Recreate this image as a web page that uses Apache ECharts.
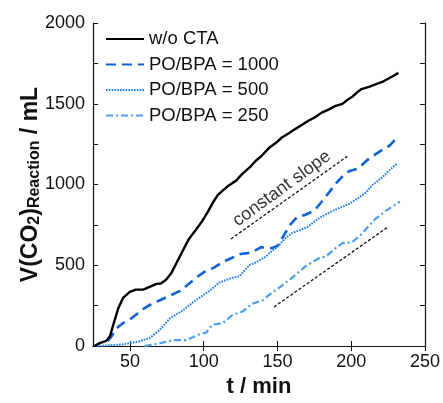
<!DOCTYPE html>
<html>
<head>
<meta charset="utf-8">
<script src="https://cdn.jsdelivr.net/npm/echarts@6/dist/echarts.min.js"></script>
<style>
  html, body { margin: 0; padding: 0; background: #fff; }
  #chart { width: 443px; height: 403px; }
</style>
</head>
<body>
<div id="chart"></div>
<script>
// values: [t / min, V / mL]
const noCta = [[26,0],[29.5,18],[34,32],[36.5,60],[38.7,130],[42,230],[45.5,300],[50,335],[54,349],[59,349],[63,365],[68,385],[71,387],[74.5,410],[78,450],[81.5,512],[86,593],[90,663],[95,723],[99,773],[103,834],[106,884],[109.5,934],[113,964],[117,994],[122,1024],[126,1064],[131,1104],[135,1144],[140,1184],[144,1224],[149,1258],[153,1291],[158,1319],[162,1343],[167,1371],[171,1395],[176,1419],[180,1445],[185,1465],[189,1485],[194,1499],[197,1521],[201,1545],[204,1571],[207,1591],[212,1605],[216,1619],[221,1635],[225,1655],[229,1675],[232,1691]]
const bpa1000 = [[35,30],[38,65],[41,110],[45,140],[50,165],[55,200],[60,235],[65,262],[70,282],[77,311],[84,341],[90,385],[96,430],[101,462],[107,485],[113,520],[119,545],[125,570],[132,578],[139,612],[146,606],[150,620],[155,695],[159,755],[163,795],[169,813],[175,838],[180,893],[184,940],[190,1010],[195,1060],[199,1084],[205,1100],[210,1145],[215,1178],[221,1215],[226,1240],[232,1300]]
const bpa500 = [[27.5,0],[45.5,10],[56.8,30],[63.5,50],[70.3,100],[77,170],[86,221],[92,265],[99.3,313],[104,341],[110.6,393],[119.6,423],[124.3,432],[130.9,500],[136,520],[142,553],[146.8,592],[151,623],[155,665],[160,700],[165,717],[170,735],[178.4,793],[187.4,837],[193,858],[198.6,880],[205,918],[209.9,950],[214,995],[221,1044],[226,1090],[231.3,1131]]
const bpa250 = [[60,0],[70,16],[79,36],[88,36],[97,72],[101.6,82],[106,132],[113,142],[119.6,192],[126,212],[133,262],[140,283],[146.6,333],[153,373],[160,423],[169,493],[178,543],[182.6,553],[189,603],[194,637],[200.7,643],[207,693],[216,784],[223,834],[233,894]]
const slopeA = [[118.5,663],[197.3,1174]]
const slopeB = [[147.7,242],[224.3,733]]
const slopeText = [[153,975]]

const xTicks = [50,100,150,200,250]
const seriesNames = ['w/o CTA','PO/BPA = 1000','PO/BPA = 500','PO/BPA = 250']

const font = 'Arial, "Liberation Sans", sans-serif'

const chart = echarts.init(document.getElementById('chart'))

const line = (name, data, color, width, type) => ({
  name, type: 'line', data, symbol: 'none', smooth: false,
  xAxisIndex: 0, yAxisIndex: 0,
  lineStyle: { color, width, type, cap: 'butt' },
  itemStyle: { color },
  emphasis: { disabled: true }
})

chart.setOption({
  animation: false,
  grid: { left: 93, right: 17, top: 23, bottom: 48 },
  legend: {
    data: seriesNames,
    orient: 'vertical',
    left: 105, top: 29, padding: 0,
    itemWidth: 38, itemHeight: 14, itemGap: 5.5,
    itemStyle: { opacity: 0 },
    textStyle: { fontFamily: font, fontSize: 18.5, color: '#111', lineHeight: 20 }
  },
  xAxis: [{
    type: 'value', min: 25, max: 250,
    name: 't / min', nameLocation: 'middle', nameGap: 30,
    nameTextStyle: { fontFamily: font, fontSize: 22, fontWeight: 'bold', color: '#111' },
    axisLine: { lineStyle: { color: '#111', width: 1.2 } },
    axisTick: { inside: true, length: 5, customValues: xTicks, lineStyle: { color: '#111' } },
    axisLabel: { customValues: xTicks, fontFamily: font, fontSize: 18, color: '#111', margin: 7 },
    splitLine: { show: false }
  }, {
    type: 'value', min: 25, max: 250, position: 'top',
    axisLine: { lineStyle: { color: '#111', width: 1.2 } },
    axisTick: { inside: true, length: 5, customValues: xTicks, lineStyle: { color: '#111' } },
    axisLabel: { show: false }, splitLine: { show: false }
  }],
  yAxis: [{
    type: 'value', min: 0, max: 2000, interval: 250,
    name: '{b|V(CO}{s|2}{b|)}{s|Reaction}{b| / mL}', nameLocation: 'middle', nameGap: 50,
    nameMoveOverlap: false,
    nameTextStyle: {
      rich: {
        b: { fontFamily: font, fontSize: 23, fontWeight: 'bold', color: '#111' },
        s: { fontFamily: font, fontSize: 16, fontWeight: 'bold', color: '#111', verticalAlign: 'bottom', padding: [9, 0, 0, 0] }
      }
    },
    axisLine: { show: true, lineStyle: { color: '#111', width: 1.2 } },
    axisTick: { show: true, inside: true, length: 5, lineStyle: { color: '#111' } },
    axisLabel: { fontFamily: font, fontSize: 18, color: '#111', margin: 8,
      formatter: v => (v % 500 === 0 ? v : '') },
    splitLine: { show: false }
  }, {
    type: 'value', min: 0, max: 2000, interval: 250, position: 'right',
    axisLine: { show: true, lineStyle: { color: '#111', width: 1.2 } },
    axisTick: { show: true, inside: true, length: 5, lineStyle: { color: '#111' } },
    axisLabel: { show: false }, splitLine: { show: false }
  }],
  series: [
    line('slopeA', slopeA, '#111', 1.3, [3, 2]),
    line('slopeB', slopeB, '#111', 1.3, [3, 2]),
    line(seriesNames[3], bpa250, '#4a9ff0', 2.2, [7, 3, 2, 3]),
    line(seriesNames[2], bpa500, '#1a7ef5', 2, [1.6, 1.2]),
    line(seriesNames[1], bpa1000, '#0f62d8', 2.6, [10, 6]),
    line(seriesNames[0], noCta, '#000', 2.4, 'solid'),
    {
      name: 'label', type: 'scatter', data: slopeText, symbolSize: 0,
      silent: true,
      label: {
        show: true, position: 'inside', formatter: 'constant slope', rotate: 36,
        fontFamily: font, fontSize: 18, color: '#000', textBorderWidth: 0
      }
    }
  ]
})
</script>
</body>
</html>
